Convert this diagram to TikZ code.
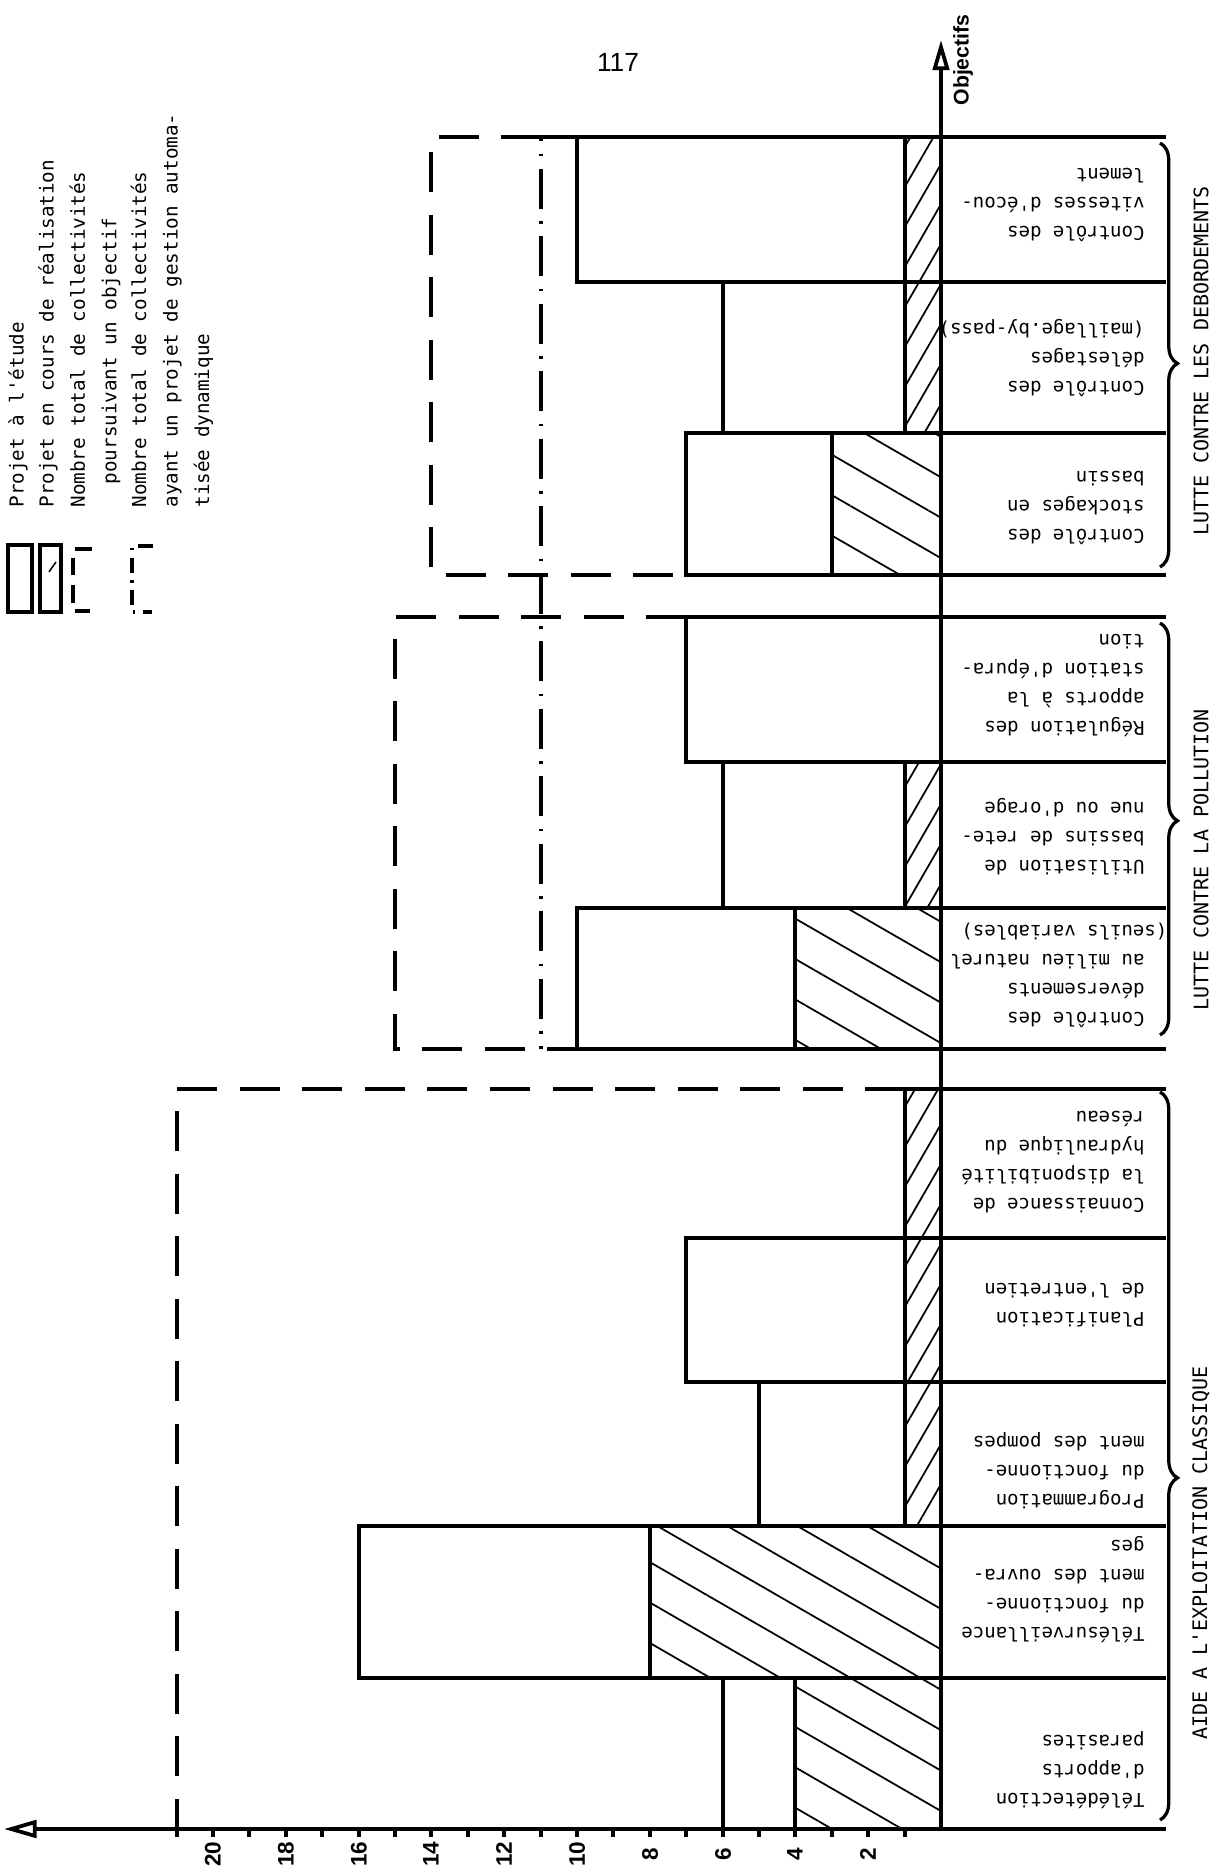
\documentclass[tikz,border=0pt]{standalone}
\usepackage{fontspec}
\setsansfont{Liberation Sans}
\setmonofont{DejaVu Sans Mono}
\usetikzlibrary{arrows.meta,patterns.meta,decorations.pathreplacing}
\tikzset{
    bars/.style={line width=1.3pt},
    axis/.style={line width=1.5pt},
    boxdash/.style={line width=1.3pt,dash pattern=on 16pt off 9pt},
    boxdashdot/.style={line width=1.3pt,dash pattern=on 16pt off 5pt on 1pt off 5pt},
    hatchwide/.style={pattern={Lines[angle=-30,distance=14pt,line width=0.7pt]}},
    hatchnarrow/.style={pattern={Lines[angle=60,distance=8pt,line width=0.7pt]}},
    catlabel/.style={rotate=180,anchor=west,align=left,inner sep=0pt,font=\ttfamily\fontsize{7.6}{11.6}\selectfont},
    grouplabel/.style={rotate=90,inner sep=0pt,font=\ttfamily\fontsize{8}{10}\selectfont},
    legendlabel/.style={rotate=90,anchor=west,align=left,inner sep=0pt,font=\ttfamily\fontsize{7.7}{12.6}\selectfont},
    ticklabel/.style={rotate=90,inner sep=0pt,font=\sffamily\bfseries\fontsize{9}{10}\selectfont},
    groupbrace/.style={decorate,decoration={brace,amplitude=7pt,aspect=#1},line width=1.3pt},
    groupbrace/.default=0.5
}

\begin{document}
\begin{tikzpicture}[x=0.4pt,y=-0.4pt]
    \useasboundingbox (0,0) rectangle (1216,1874);
    \node[font=\sffamily\fontsize{10.5}{12}\selectfont] (page) at (618,62) {117};

    % legend
    \draw[bars] (8,545) rectangle (32,612);
    \draw[bars] (40,545) rectangle (61,612);
    \draw[line width=0.6pt] (49,572) -- (56,562);
    \draw[bars,dash pattern=on 7pt off 4pt] (92,549) -- (73,549) -- (73,611) -- (90,611);
    \draw[bars,dash pattern=on 6pt off 3pt on 1pt off 3pt] (153,546) -- (132,546) -- (132,612) -- (152,612);
    \node[legendlabel] (legetude) at (18,508) {Projet à l'étude};
    \node[legendlabel] (legcours) at (48,508) {Projet en cours de réalisation};
    \node[legendlabel] (legobjectif) at (95,508) {Nombre total de collectivités\\\phantom{No}poursuivant un objectif};
    \node[legendlabel] (leggestion) at (172,508) {Nombre total de collectivités\\ayant un projet de gestion automa-\\tisée dynamique};

    % hatched parts (projets en cours)
    \fill[hatchnarrow] (905,137) rectangle (941,282);
    \fill[hatchnarrow] (905,282) rectangle (941,433);
    \fill[hatchwide] (832,433) rectangle (941,575);
    \fill[hatchnarrow] (905,762) rectangle (941,908);
    \fill[hatchwide] (795,908) rectangle (941,1049);
    \fill[hatchnarrow] (905,1089) rectangle (941,1238);
    \fill[hatchnarrow] (905,1238) rectangle (941,1382);
    \fill[hatchnarrow] (905,1382) rectangle (941,1526);
    \fill[hatchwide] (650,1526) rectangle (941,1678);
    \fill[hatchwide] (795,1678) rectangle (941,1829);

    % bars and label cells
    \draw[bars] (1166,137) -- (577,137) -- (577,282) -- (1166,282);
    \draw[bars] (1166,282) -- (723,282) -- (723,433) -- (1166,433);
    \draw[bars] (1166,433) -- (686,433) -- (686,575) -- (1166,575);
    \draw[bars] (1166,617) -- (686,617) -- (686,762) -- (1166,762);
    \draw[bars] (1166,762) -- (723,762) -- (723,908) -- (1166,908);
    \draw[bars] (1166,908) -- (577,908) -- (577,1049) -- (1166,1049);
    \draw[bars] (1166,1089) -- (905,1089) -- (905,1238) -- (1166,1238);
    \draw[bars] (1166,1238) -- (686,1238) -- (686,1382) -- (1166,1382);
    \draw[bars] (1166,1382) -- (759,1382) -- (759,1526) -- (1166,1526);
    \draw[bars] (1166,1526) -- (359,1526) -- (359,1678) -- (1166,1678);
    \draw[bars] (1166,1678) -- (723,1678) -- (723,1829);
    \draw[bars] (905,137) -- (905,282) (905,282) -- (905,433) (832,433) -- (832,575);
    \draw[bars] (905,762) -- (905,908) (795,908) -- (795,1049);
    \draw[bars] (905,1238) -- (905,1382) (905,1382) -- (905,1526) (650,1526) -- (650,1678) (795,1678) -- (795,1829);

    % totals of collectivites
    \draw[boxdash] (541,137) -- (431,137) -- (431,575) -- (686,575);
    \draw[boxdash] (686,617) -- (395,617) -- (395,1049) -- (577,1049);
    \draw[boxdashdot] (577,137) -- (541,137) -- (541,1049);
    \draw[boxdash] (905,1089) -- (177,1089) -- (177,1829);

    % axes
    \coordinate (origin) at (941,1829);
    \coordinate (xend) at (1166,1829);
    \coordinate (xtip) at (4,1829);
    \coordinate (ytip) at (941,40);
    \draw[axis,-{Triangle[open,length=13pt,width=7pt]}] (xend) -- (xtip);
    \draw[axis,-{Triangle[open,length=12pt,width=6.5pt]}] (origin) -- (ytip);
    \node[rotate=90,font=\sffamily\bfseries\fontsize{8.5}{10}\selectfont] (objectifs) at (963,60) {Objectifs};
    \draw[bars] (905,1829) -- ++(0,8) (868,1829) -- ++(0,8) (832,1829) -- ++(0,8) (795,1829) -- ++(0,8)
        (759,1829) -- ++(0,8) (723,1829) -- ++(0,8) (686,1829) -- ++(0,8) (650,1829) -- ++(0,8)
        (613,1829) -- ++(0,8) (577,1829) -- ++(0,8) (541,1829) -- ++(0,8) (504,1829) -- ++(0,8)
        (468,1829) -- ++(0,8) (431,1829) -- ++(0,8) (395,1829) -- ++(0,8) (359,1829) -- ++(0,8)
        (322,1829) -- ++(0,8) (286,1829) -- ++(0,8) (249,1829) -- ++(0,8) (213,1829) -- ++(0,8)
        (177,1829) -- ++(0,8);
    \node[ticklabel] (t2) at (868,1854) {2};
    \node[ticklabel] (t4) at (795,1854) {4};
    \node[ticklabel] (t6) at (723,1854) {6};
    \node[ticklabel] (t8) at (650,1854) {8};
    \node[ticklabel] (t10) at (577,1854) {10};
    \node[ticklabel] (t12) at (504,1854) {12};
    \node[ticklabel] (t14) at (431,1854) {14};
    \node[ticklabel] (t16) at (359,1854) {16};
    \node[ticklabel] (t18) at (286,1854) {18};
    \node[ticklabel] (t20) at (213,1854) {20};

    % objectives
    \node[catlabel] (vitesses) at (1145,205) {Contrôle des\\vitesses d'écou-\\lement};
    \node[catlabel] (delestages) at (1145,358) {Contrôle des\\délestages\\(maillage.by-pass)};
    \node[catlabel] (stockages) at (1145,508) {Contrôle des\\stockages en\\bassin};
    \node[catlabel] (regulation) at (1145,685) {Régulation des\\apports à la\\station d'épura-\\tion};
    \node[catlabel] (retenue) at (1145,837) {Utilisation de\\bassins de rete-\\nue ou d'orage};
    \node[catlabel] (deversements) at (1145,975) {Contrôle des\\déversements\\au milieu naturel\\\hspace*{-2.2ex}(seuils variables)};
    \node[catlabel] (disponibilite) at (1145,1162) {Connaissance de\\la disponibilité\\hydraulique du\\réseau};
    \node[catlabel] (entretien) at (1145,1305) {Planification\\de l'entretien};
    \node[catlabel] (pompes) at (1145,1471) {Programmation\\du fonctionne-\\ment des pompes};
    \node[catlabel] (ouvrages) at (1145,1590) {Télésurveillance\\du fonctionne-\\ment des ouvra-\\ges};
    \node[catlabel] (parasites) at (1145,1770) {Télédétection\\d'apports\\parasites};

    % groups
    \draw[groupbrace=0.52] (1160,143) -- (1160,567);
    \draw[groupbrace=0.48] (1160,623) -- (1160,1035);
    \draw[groupbrace=0.53] (1160,1092) -- (1160,1820);
    \node[grouplabel] (debordements) at (1201,361) {LUTTE CONTRE LES DEBORDEMENTS};
    \node[grouplabel] (pollution) at (1201,860) {LUTTE CONTRE LA POLLUTION};
    \node[grouplabel] (exploitation) at (1201,1553) {AIDE A L'EXPLOITATION CLASSIQUE};
\end{tikzpicture}
\end{document}
